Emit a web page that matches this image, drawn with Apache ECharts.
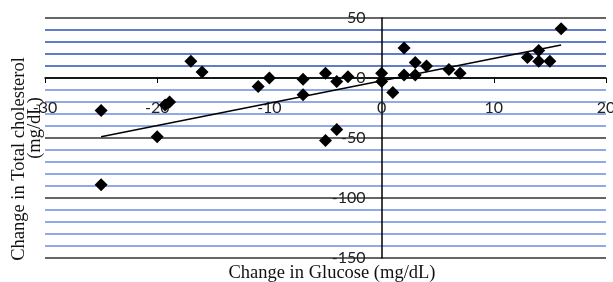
<!DOCTYPE html>
<html>
<head>
<meta charset="utf-8">
<script src="https://cdn.jsdelivr.net/npm/echarts@6/dist/echarts.min.js"></script>
<style>
  html, body { margin: 0; padding: 0; background: #fff; }
  #scatterChart { width: 613px; height: 282px; }
</style>
</head>
<body>
<div id="scatterChart"></div>
<script>
// change in glucose (x) and change in total cholesterol (y)
const glucose = [-25, -25, -20, -18.9, -19.3, -17, -16, -11, -10, -7, -7, -5, -5, -4, -4, -3, 0, 0, 1, 2, 2, 3, 3, 4, 6, 7, 13, 14, 14, 15, 16]
const cholesterol = [-27, -89, -49, -20, -22.5, 14, 5, -7, 0, -1, -14, 4, -52, -3, -43, 1, 4, -3, -12, 25, 2.5, 13, 2.5, 10, 7, 4, 17, 23, 14, 14, 41]
// trend line end points
const trendX = [-25, 16]
const trendY = [-49, 27.5]
const xTicks = [-30, -20, -10, 0, 10, 20]
const yTicks = [-150, -100, -50, 0, 50]

const W = 613, H = 282
const gridBox = { left: 45, right: 7, top: 18, bottom: 24 }
const gridW = W - gridBox.left - gridBox.right
const gridH = H - gridBox.top - gridBox.bottom
const xMin = xTicks[0], xMax = xTicks[xTicks.length - 1]
const yMin = yTicks[0], yMax = yTicks[yTicks.length - 1]
// axes cross at zero: move them inward from the grid edges
const xAxisOffset = -gridH * (0 - yMin) / (yMax - yMin)
const yAxisOffset = -gridW * (0 - xMin) / (xMax - xMin)

// one colour per split line, from -150 upward
let lineColors = []
for (let v = yMin; v <= yMax; v += 10) {
  if (v % 50 === 0) lineColors.push('#333333')
  else if (v > 0) lineColors.push('#2c4fb6')
  else lineColors.push('#6d8ddd')
}

let titleFont = '18.5px "Liberation Serif"'

let myChart = echarts.init(document.getElementById('scatterChart'))
let option = {
  animation: false,
  grid: { left: gridBox.left, right: gridBox.right, top: gridBox.top, bottom: gridBox.bottom, outerBoundsMode: 'none' },
  xAxis: {
    type: 'value',
    position: 'bottom',
    offset: xAxisOffset,
    min: xMin,
    max: xMax,
    interval: 10,
    axisLine: { show: true, onZero: false, lineStyle: { color: '#000', width: 1.5 } },
    axisTick: { show: true, length: 5, lineStyle: { color: '#000', width: 1 } },
    axisLabel: {
      margin: 22,
      color: '#222',
      fontFamily: 'Lato',
      fontSize: 16
    },
    splitLine: { show: false }
  },
  yAxis: {
    type: 'value',
    position: 'left',
    offset: yAxisOffset,
    min: yMin,
    max: yMax,
    interval: 10,
    axisLine: { show: true, onZero: false, lineStyle: { color: '#000', width: 1.5 } },
    axisTick: { show: false },
    axisLabel: {
      margin: 16,
      color: '#222',
      fontFamily: 'Lato',
      fontSize: 16,
      formatter: function (v) {
        return yTicks.indexOf(v) >= 0 ? String(v) : ''
      }
    },
    splitLine: { show: true, lineStyle: { color: lineColors, width: 1.6 } }
  },
  graphic: [
    {
      type: 'text', x: 19, y: 159, rotation: Math.PI / 2,
      style: { text: 'Change in Total cholesterol', font: titleFont, fill: '#111', align: 'center', verticalAlign: 'middle' }
    },
    {
      type: 'text', x: 35, y: 128, rotation: Math.PI / 2,
      style: { text: '(mg/dL)', font: titleFont, fill: '#111', align: 'center', verticalAlign: 'middle' }
    },
    {
      type: 'text', x: 332, y: 273,
      style: { text: 'Change in Glucose (mg/dL)', font: titleFont, fill: '#111', align: 'center', verticalAlign: 'middle' }
    }
  ],
  series: [
    {
      type: 'line',
      data: trendX.map((x, i) => [x, trendY[i]]),
      symbol: 'none',
      lineStyle: { color: '#000', width: 1.5 },
      z: 3
    },
    {
      type: 'scatter',
      data: glucose.map((x, i) => [x, cholesterol[i]]),
      symbol: 'diamond',
      symbolSize: 13,
      itemStyle: { color: '#000', opacity: 1 },
      z: 4
    }
  ]
}
myChart.setOption(option)
</script>
</body>
</html>
